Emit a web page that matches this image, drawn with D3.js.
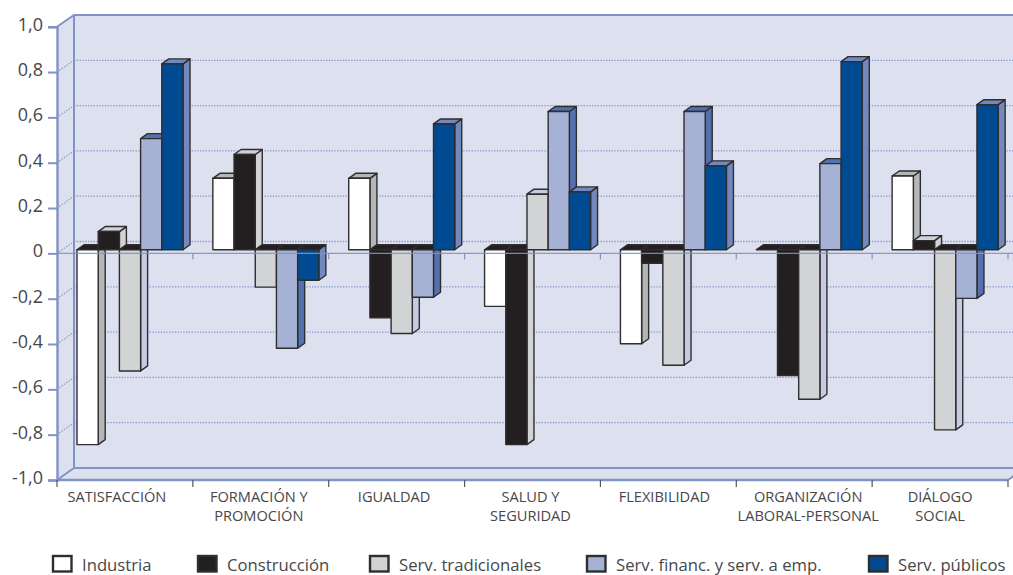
<!DOCTYPE html>
<html lang="es">
<head>
<meta charset="utf-8">
<title>Índices por sector</title>
<script src="https://cdn.jsdelivr.net/npm/d3@7"></script>
<style>
  html, body { margin: 0; padding: 0; background: #fff; }
  svg { display: block; }
  text { font-family: "Open Sans", "Noto Sans", sans-serif; fill: #47474a; }
</style>
</head>
<body>
<svg id="chart" width="1013" height="575"></svg>
<script>
// Chart data
const categories = ["SATISFACCIÓN", "FORMACIÓN Y|PROMOCIÓN", "IGUALDAD", "SALUD Y|SEGURIDAD",
                    "FLEXIBILIDAD", "ORGANIZACIÓN|LABORAL-PERSONAL", "DIÁLOGO|SOCIAL"];
const seriesNames = ["Industria", "Construcción", "Serv. tradicionales", "Serv. financ. y serv. a emp.", "Serv. públicos"];
const industria      = [-0.86, 0.315, 0.315, -0.25, -0.415, 0, 0.325];
const construccion   = [0.08, 0.42, -0.30, -0.86, -0.06, -0.555, 0.04];
const tradicionales  = [-0.535, -0.165, -0.37, 0.245, -0.51, -0.66, -0.795];
const financieros    = [0.49, -0.435, -0.21, 0.61, 0.61, 0.38, -0.215];
const publicos       = [0.82, -0.135, 0.555, 0.255, 0.37, 0.83, 0.64];
const seriesValues = [industria, construccion, tradicionales, financieros, publicos];
const yTicks = [1, 0.8, 0.6, 0.4, 0.2, 0, -0.2, -0.4, -0.6, -0.8, -1];

// Face colours per series
const frontColors = ["#ffffff", "#231f20", "#d1d3d4", "#a5b2d5", "#004a92"];
const sideColors  = ["#b4b6b8", "#d1d3d4", "#c6cbe4", "#5571ad", "#7389bd"];
const edge = "#2e2d2f";
const wallFill = "#dde0ee";
const axisBlue = "#8093c6";

// Plot geometry: the front plane, the back wall and the plane the bars stand on
const left = 57, right = 1008, wallDx = 17;
const barDx = 7, barDy = -5;
const yFront = d3.scaleLinear().domain([-1, 1]).range([480, 26.7]);
const yWall  = d3.scaleLinear().domain([-1, 1]).range([468, 15]);
const yBar   = d3.scaleLinear().domain([-1, 1]).range([476.3, 23.1]);
const xGroup = d3.scaleBand().domain(d3.range(categories.length)).range([left, right]);
const xSeries = d3.scaleBand().domain(d3.range(seriesNames.length)).range([20, 126]);

const svg = d3.select("#chart");
const pts = a => a.map(p => p.join(",")).join(" ");

// Back wall, side wall and floor
const wallRight = 1030;
svg.append("polygon")
  .attr("points", pts([[left, yFront(1)], [left + wallDx, yWall(1)], [wallRight, yWall(1)],
                       [wallRight, yWall(-1)], [right + wallDx, yWall(-1)], [right, yFront(-1)], [left, yFront(-1)]]))
  .attr("fill", wallFill);

// Dotted gridlines across the wall, with their diagonal run on the side wall
const gridTicks = yTicks.filter(t => Math.abs(t) < 1);
const grid = svg.append("g").attr("fill", "none").attr("stroke", "#8a9bd0")
  .attr("stroke-width", 1.3).attr("stroke-dasharray", "1.4 1.4");
grid.selectAll("line.back").data(gridTicks).join("line").attr("class", "back")
  .attr("x1", left + wallDx).attr("x2", 1013)
  .attr("y1", yWall).attr("y2", yWall);
grid.selectAll("line.diag").data(gridTicks).join("line").attr("class", "diag")
  .attr("x1", left).attr("x2", left + wallDx)
  .attr("y1", yFront).attr("y2", yWall);

// Wall outline
svg.append("path")
  .attr("d", `M${left},${yFront(1)}L${left + wallDx},${yWall(1)}H1013`)
  .attr("fill", "none").attr("stroke", axisBlue).attr("stroke-width", 2);
svg.append("path")
  .attr("d", `M${left + wallDx},${yWall(1)}V${yWall(-1)}H1013M${left},${yFront(-1)}L${left + wallDx},${yWall(-1)}M${right},${yFront(-1)}L${right + wallDx},${yWall(-1)}`)
  .attr("fill", "none").attr("stroke", axisBlue).attr("stroke-width", 2);

// Bars, drawn left to right so each one covers its neighbour's side face
const bars = [];
categories.forEach((c, g) => seriesValues.forEach((vals, s) => bars.push({ g, s, v: vals[g] })));
const barG = svg.append("g").attr("stroke", edge).attr("stroke-width", 1.4).attr("stroke-linejoin", "round");
bars.forEach(d => {
  const x0 = xGroup(d.g) + xSeries(d.s), w = xSeries.bandwidth();
  const x1 = x0 + w;
  const yTop = yBar(Math.max(d.v, 0)), yBot = yBar(Math.min(d.v, 0));
  barG.append("polygon")
    .attr("points", pts([[x1, yTop], [x1 + barDx, yTop + barDy], [x1 + barDx, yBot + barDy], [x1, yBot]]))
    .attr("fill", sideColors[d.s]);
  barG.append("polygon")
    .attr("points", pts([[x0, yTop], [x0 + barDx, yTop + barDy], [x1 + barDx, yTop + barDy], [x1, yTop]]))
    .attr("fill", d.v > 0 ? sideColors[d.s] : "#231f20");
  if (d.v !== 0) {
    barG.append("rect")
      .attr("x", x0).attr("y", yTop).attr("width", w).attr("height", yBot - yTop)
      .attr("fill", frontColors[d.s]);
  }
});

// Left axis
const yAxis = d3.axisLeft(yFront).tickValues(yTicks).tickSize(9).tickPadding(5)
  .tickFormat(t => t === 0 ? "0" : (t < 0 ? "-" : "") + d3.format(".1f")(Math.abs(t)).replace(".", ","));
const yG = svg.append("g").attr("transform", `translate(${left},0)`).call(yAxis);
yG.select(".domain").attr("stroke", axisBlue).attr("stroke-width", 2.4);
yG.selectAll(".tick line").attr("stroke", axisBlue).attr("stroke-width", 2);
yG.selectAll(".tick text").attr("font-size", 18).attr("fill", "#47474a").attr("dy", "0.2em")
  .style("font-family", '"Open Sans", sans-serif');

// Zero line and lower axis with ticks at category boundaries
const boundaries = d3.range(categories.length + 1).map(i => left + i * xGroup.step());
svg.append("line").attr("x1", left).attr("x2", 1013).attr("y1", yFront(0)).attr("y2", yFront(0))
  .attr("stroke", axisBlue).attr("stroke-width", 1.3).attr("opacity", 0.9);
svg.selectAll("line.zeroTick").data(boundaries.slice(1)).join("line").attr("class", "zeroTick")
  .attr("x1", d => d).attr("x2", d => d).attr("y1", yFront(0)).attr("y2", yFront(0) + 6)
  .attr("stroke", axisBlue).attr("stroke-width", 1.2);
svg.append("line").attr("x1", left).attr("x2", right).attr("y1", yFront(-1)).attr("y2", yFront(-1))
  .attr("stroke", axisBlue).attr("stroke-width", 2.4);
svg.selectAll("line.bottomTick").data(boundaries).join("line").attr("class", "bottomTick")
  .attr("x1", d => d).attr("x2", d => d).attr("y1", yFront(-1)).attr("y2", yFront(-1) + 7)
  .attr("stroke", "#55565a").attr("stroke-width", 1.2);

// Category labels, one or two lines
const labelShift = [-8, -2, -2.5, -2, -4, 4, 0];
const catLabels = svg.selectAll("text.cat").data(categories).join("text").attr("class", "cat")
  .attr("text-anchor", "middle").attr("font-size", 14.6);
catLabels.each(function (c, i) {
  const cx = xGroup(i) + xGroup.bandwidth() / 2 + labelShift[i];
  d3.select(this).selectAll("tspan").data(c.split("|")).join("tspan")
    .attr("x", cx).attr("y", (d, k) => 502.3 + k * 18.6).text(d => d);
});

// Legend
const legendX = [52, 197, 369, 586, 868];
const legend = svg.selectAll("g.legend").data(seriesNames).join("g").attr("class", "legend")
  .attr("transform", (d, i) => `translate(${legendX[i]},555)`);
legend.append("rect").attr("x", 1).attr("y", 1).attr("width", 18.5).attr("height", 15.5)
  .attr("fill", (d, i) => frontColors[i]).attr("stroke", edge).attr("stroke-width", 2.4);
legend.append("text").attr("x", 30).attr("y", 15.5).attr("font-size", 16.7).text(d => d);
</script>
</body>
</html>
